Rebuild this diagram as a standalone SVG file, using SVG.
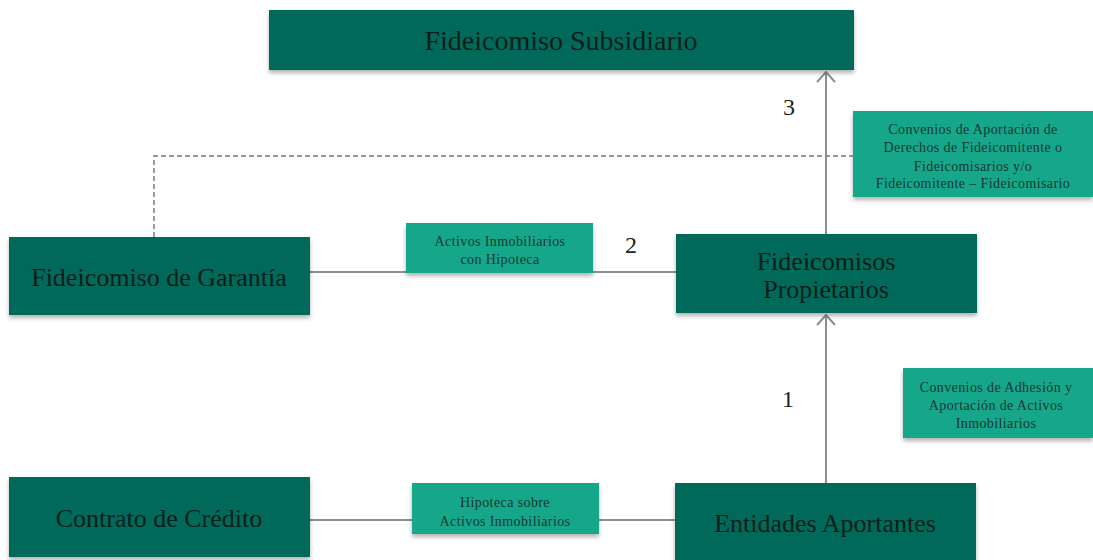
<svg xmlns="http://www.w3.org/2000/svg" width="1093" height="560" viewBox="0 0 1093 560">
<style>
.main{fill:#03695a;filter:url(#sh)}
.lab{fill:#15a78a;filter:url(#sh)}
.t{font-family:"Liberation Serif","Times New Roman",serif;fill:#0b1d18;text-anchor:middle}
.big{font-size:26px}
.sm{font-size:14px;letter-spacing:0.4px;fill:#15392f}
.num{font-family:"Liberation Serif","Times New Roman",serif;font-size:24px;fill:#222;text-anchor:middle}
.ln{stroke:#8e8e8e;stroke-width:2;fill:none}
.dash{stroke:#7a7a7a;stroke-width:1.5;fill:none;stroke-dasharray:5 3}
</style>
<defs>
<filter id="sh" x="-5%" y="-10%" width="110%" height="130%">
<feDropShadow dx="0" dy="3" stdDeviation="2" flood-color="#000" flood-opacity="0.3"/>
</filter>
<marker id="ah" markerUnits="userSpaceOnUse" viewBox="0 0 12 20" markerWidth="12" markerHeight="20" refX="11" refY="10" orient="auto">
<path d="M1,1 L11,10 L1,19" fill="none" stroke="#8e8e8e" stroke-width="2"/>
</marker>
</defs>
<rect width="1093" height="560" fill="#fff"/>
<g id="connectors">
<line class="ln" x1="310" y1="272" x2="676" y2="272"/>
<line class="ln" x1="310" y1="520" x2="675" y2="520"/>
<line class="ln" x1="826" y1="483" x2="826" y2="315" marker-end="url(#ah)"/>
<line class="ln" x1="826" y1="234" x2="826" y2="72" marker-end="url(#ah)"/>
<polyline class="dash" points="154,237 154,156 853,156"/>
</g>
<g id="subsidiario">
<rect class="main" x="269" y="10" width="585" height="60"/>
<text class="t" x="561" y="50" style="font-size:28px">Fideicomiso Subsidiario</text>
</g>
<g id="garantia">
<rect class="main" x="9" y="237" width="301" height="78"/>
<text class="t big" x="159" y="286">Fideicomiso de Garantía</text>
</g>
<g id="propietarios">
<rect class="main" x="676" y="234" width="301" height="79"/>
<text class="t big" x="826" y="270">Fideicomisos</text>
<text class="t big" x="826" y="298">Propietarios</text>
</g>
<g id="contrato">
<rect class="main" x="9" y="477" width="301" height="80"/>
<text class="t big" x="159" y="527">Contrato de Crédito</text>
</g>
<g id="entidades">
<rect class="main" x="675" y="483" width="301" height="77"/>
<text class="t big" x="825" y="532">Entidades Aportantes</text>
</g>
<g id="label-activos">
<rect class="lab" x="406" y="223" width="187" height="50"/>
<text class="t sm" x="500" y="246">Activos Inmobiliarios</text>
<text class="t sm" x="500" y="264">con Hipoteca</text>
</g>
<g id="label-hipoteca">
<rect class="lab" x="412" y="483" width="187" height="51"/>
<text class="t sm" x="505" y="507">Hipoteca sobre</text>
<text class="t sm" x="505" y="526">Activos Inmobiliarios</text>
</g>
<g id="label-convenios-aportacion">
<rect class="lab" x="853" y="111" width="240" height="86"/>
<text class="t sm" x="973" y="134">Convenios de Aportación de</text>
<text class="t sm" x="973" y="152">Derechos de Fideicomitente o</text>
<text class="t sm" x="973" y="171">Fideicomisarios y/o</text>
<text class="t sm" x="973" y="188">Fideicomitente – Fideicomisario</text>
</g>
<g id="label-convenios-adhesion">
<rect class="lab" x="903" y="368" width="190" height="70"/>
<text class="t sm" x="996" y="392">Convenios de Adhesión y</text>
<text class="t sm" x="996" y="410">Aportación de Activos</text>
<text class="t sm" x="996" y="428">Inmobiliarios</text>
</g>
<g id="numbers">
<text class="num" x="789" y="115">3</text>
<text class="num" x="631" y="253">2</text>
<text class="num" x="788" y="407">1</text>
</g>
</svg>
